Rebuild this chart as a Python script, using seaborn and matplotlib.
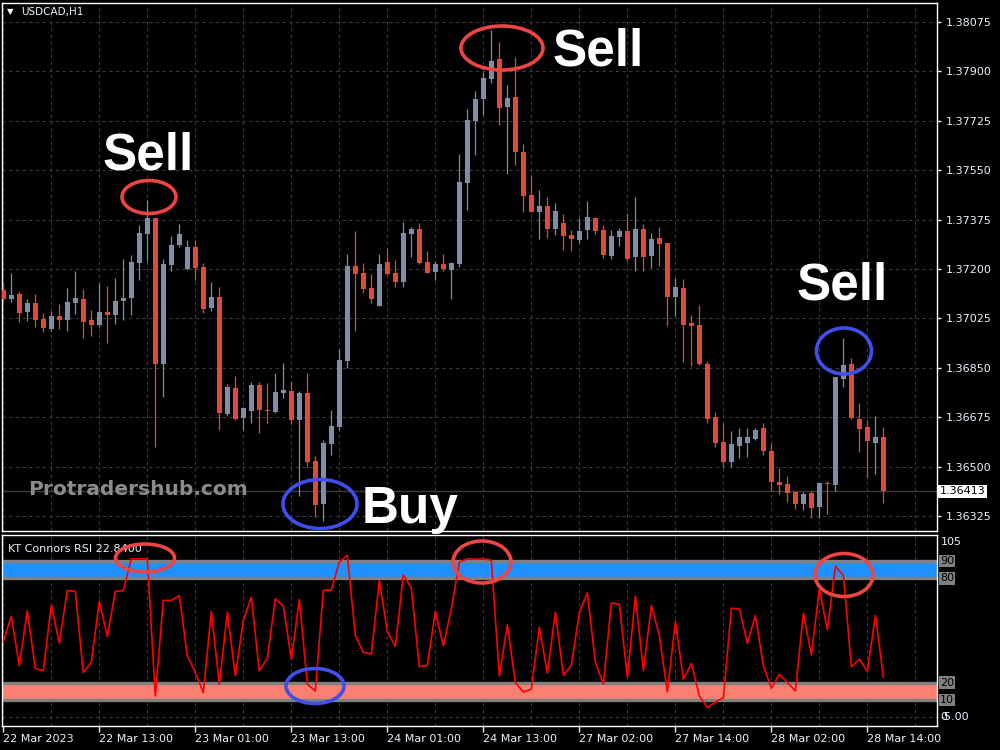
import numpy as np
import matplotlib
matplotlib.use("Agg")
import matplotlib.pyplot as plt
import matplotlib.transforms as mtransforms
from matplotlib.patches import Ellipse
import seaborn as sns

# USDCAD H1 candles, one per bar (bar 0 = 22 Mar 01:00)
open_ = [1.37125, 1.37095, 1.37111, 1.37049, 1.37079, 1.37023, 1.36989, 1.37033, 1.37020, 1.37080,
         1.37094, 1.37019, 1.37003, 1.37048, 1.37038, 1.37088, 1.37098, 1.37222, 1.37325, 1.37380,
         1.36865, 1.37215, 1.37285, 1.37200, 1.37278, 1.37207, 1.37063, 1.37101, 1.36688, 1.36779,
         1.36673, 1.36697, 1.36788, 1.36701, 1.36694, 1.36762, 1.36768, 1.36665, 1.36761, 1.36520,
         1.36367, 1.36581, 1.36641, 1.36874, 1.37210, 1.37185, 1.37132, 1.37070, 1.37223, 1.37186,
         1.37155, 1.37325, 1.37342, 1.37223, 1.37188, 1.37217, 1.37197, 1.37218, 1.37506, 1.37725,
         1.37803, 1.37874, 1.37943, 1.37775, 1.37810, 1.37615, 1.37462, 1.37402, 1.37423, 1.37342,
         1.37363, 1.37320, 1.37303, 1.37338, 1.37381, 1.37338, 1.37246, 1.37313, 1.37335, 1.37242,
         1.37342, 1.37246, 1.37310, 1.37292, 1.37101, 1.37133, 1.37009, 1.37002, 1.36864, 1.36676,
         1.36587, 1.36518, 1.36574, 1.36585, 1.36598, 1.36637, 1.36555, 1.36445, 1.36438, 1.36410,
         1.36368, 1.36406, 1.36358, 1.36443, 1.36436, 1.36811, 1.36864, 1.36669, 1.36641, 1.36585,
         1.36605]
high = [1.37150, 1.37185, 1.37122, 1.37094, 1.37111, 1.37044, 1.37051, 1.37076, 1.37132, 1.37193,
        1.37129, 1.37055, 1.37149, 1.37140, 1.37167, 1.37235, 1.37250, 1.37356, 1.37444, 1.37382,
        1.37235, 1.37317, 1.37359, 1.37303, 1.37303, 1.37221, 1.37154, 1.37135, 1.36793, 1.36821,
        1.36712, 1.36800, 1.36801, 1.36796, 1.36832, 1.36867, 1.36803, 1.36768, 1.36832, 1.36538,
        1.36596, 1.36700, 1.36917, 1.37253, 1.37335, 1.37220, 1.37182, 1.37252, 1.37273, 1.37232,
        1.37366, 1.37349, 1.37363, 1.37265, 1.37228, 1.37253, 1.37225, 1.37606, 1.37766, 1.37830,
        1.37897, 1.38047, 1.38004, 1.37852, 1.37951, 1.37644, 1.37533, 1.37479, 1.37455, 1.37434,
        1.37395, 1.37338, 1.37381, 1.37441, 1.37384, 1.37356, 1.37338, 1.37345, 1.37398, 1.37455,
        1.37359, 1.37327, 1.37349, 1.37292, 1.37168, 1.37165, 1.37037, 1.37072, 1.36874, 1.36694,
        1.36655, 1.36627, 1.36637, 1.36637, 1.36637, 1.36655, 1.36584, 1.36494, 1.36466, 1.36410,
        1.36410, 1.36414, 1.36442, 1.36450, 1.36817, 1.36955, 1.36885, 1.36726, 1.36665, 1.36679,
        1.36641]
low = [1.37088, 1.37084, 1.37013, 1.37017, 1.36995, 1.36978, 1.36981, 1.36989, 1.36981, 1.37042,
       1.36954, 1.36961, 1.36995, 1.36939, 1.37006, 1.37020, 1.37038, 1.37162, 1.37229, 1.36571,
       1.36748, 1.37192, 1.37279, 1.37196, 1.37161, 1.37043, 1.37052, 1.36630, 1.36679, 1.36665,
       1.36630, 1.36654, 1.36618, 1.36654, 1.36689, 1.36744, 1.36650, 1.36397, 1.36500, 1.36320,
       1.36308, 1.36541, 1.36630, 1.36848, 1.36981, 1.37114, 1.37080, 1.37068, 1.37179, 1.37137,
       1.37137, 1.37244, 1.37216, 1.37185, 1.37160, 1.37193, 1.37095, 1.37208, 1.37409, 1.37602,
       1.37746, 1.37860, 1.37710, 1.37535, 1.37570, 1.37401, 1.37401, 1.37306, 1.37310, 1.37321,
       1.37267, 1.37264, 1.37292, 1.37306, 1.37324, 1.37239, 1.37235, 1.37282, 1.37228, 1.37193,
       1.37193, 1.37203, 1.37210, 1.36998, 1.37033, 1.36869, 1.36857, 1.36861, 1.36655, 1.36570,
       1.36500, 1.36500, 1.36531, 1.36534, 1.36593, 1.36542, 1.36414, 1.36404, 1.36374, 1.36351,
       1.36347, 1.36318, 1.36318, 1.36332, 1.36414, 1.36783, 1.36668, 1.36552, 1.36460, 1.36474,
       1.36370]
close = [1.37095, 1.37108, 1.37045, 1.37079, 1.37020, 1.36992, 1.37033, 1.37020, 1.37083, 1.37097,
         1.37013, 1.37003, 1.37048, 1.37038, 1.37086, 1.37098, 1.37225, 1.37328, 1.37380, 1.36865,
         1.37217, 1.37285, 1.37324, 1.37278, 1.37204, 1.37059, 1.37101, 1.36689, 1.36782, 1.36669,
         1.36707, 1.36788, 1.36700, 1.36697, 1.36764, 1.36771, 1.36665, 1.36762, 1.36518, 1.36364,
         1.36583, 1.36644, 1.36878, 1.37210, 1.37183, 1.37128, 1.37095, 1.37216, 1.37183, 1.37155,
         1.37326, 1.37342, 1.37221, 1.37187, 1.37217, 1.37201, 1.37221, 1.37508, 1.37728, 1.37802,
         1.37877, 1.37937, 1.37771, 1.37805, 1.37613, 1.37460, 1.37403, 1.37423, 1.37342, 1.37405,
         1.37317, 1.37306, 1.37335, 1.37384, 1.37335, 1.37250, 1.37317, 1.37335, 1.37235, 1.37342,
         1.37242, 1.37306, 1.37288, 1.37101, 1.37136, 1.37002, 1.36998, 1.36864, 1.36669, 1.36584,
         1.36518, 1.36580, 1.36605, 1.36605, 1.36630, 1.36556, 1.36446, 1.36436, 1.36407, 1.36368,
         1.36404, 1.36354, 1.36442, 1.36439, 1.36817, 1.36860, 1.36671, 1.36635, 1.36589, 1.36605,
         1.36413]

# KT Connors RSI, one value per bar
rsi = [43.5, 58.2, 29.7, 61.5, 28.1, 26.8, 64.7, 42.8, 73.0, 72.6,
       25.8, 31.6, 66.7, 46.6, 72.5, 73.0, 91.3, 91.3, 91.3, 12.3,
       67.3, 67.3, 70.1, 35.4, 25.8, 14.2, 60.9, 19.1, 60.5, 23.9,
       55.7, 69.2, 26.8, 33.9, 68.2, 64.0, 33.5, 67.8, 19.1, 15.2,
       73.0, 73.4, 89.4, 93.3, 47.0, 37.4, 36.4, 78.8, 49.3, 40.8,
       82.1, 74.4, 29.1, 30.0, 60.9, 41.2, 62.4, 89.4, 91.3, 91.0,
       91.3, 90.4, 23.9, 53.2, 20.0, 14.6, 16.2, 51.8, 25.4, 60.5,
       24.3, 30.0, 60.5, 71.7, 31.6, 19.1, 65.9, 65.1, 22.9, 69.8,
       26.8, 64.4, 47.0, 14.6, 55.3, 21.9, 31.0, 12.3, 5.6, 8.8,
       11.3, 62.8, 62.4, 42.6, 58.6, 29.7, 16.7, 24.8, 20.0, 15.2,
       59.9, 36.0, 74.0, 50.3, 87.1, 81.7, 29.1, 33.5, 26.4, 58.6,
       22.84]

price_ticks = [1.38075, 1.37900, 1.37725, 1.37550, 1.37375, 1.37200,
               1.37025, 1.36850, 1.36675, 1.36500, 1.36325]
date_bars = [0, 12, 24, 36, 48, 60, 72, 84, 96, 108]
date_labels = ["22 Mar 2023", "22 Mar 13:00", "23 Mar 01:00", "23 Mar 13:00", "24 Mar 01:00",
               "24 Mar 13:00", "27 Mar 02:00", "27 Mar 14:00", "28 Mar 02:00", "28 Mar 14:00"]
rsi_levels = [90, 80, 20, 10]

BULL = "#7D8DA8"
BEAR = "#DD4A3A"
TXT = "#EAF2FF"
GRID = "#3A3A3A"

sns.set_theme(style="dark", rc={"axes.facecolor": "black", "figure.facecolor": "black"})
plt.rcParams["font.family"] = ["DejaVu Sans"]

o = np.array(open_)
h = np.array(high)
l = np.array(low)
c = np.array(close)
bars = np.arange(len(c))
cols = np.where(c >= o, BULL, BEAR)

fig = plt.figure(figsize=(10, 7.5), dpi=100)
ax = fig.add_axes([0.002, 0.292, 0.935, 0.704])
ax2 = fig.add_axes([0.002, 0.032, 0.935, 0.2547])

# price panel
ax.vlines(bars, l, h, colors=cols, linewidth=0.9, zorder=3)
ax.bar(bars, np.maximum(np.abs(c - o), 0.00003), bottom=np.minimum(o, c), width=0.62,
       color=cols, linewidth=0, zorder=4)
ax.axhline(c[-1], color="#3C3C3C", linewidth=1, zorder=2)
ax.set_xlim(-0.16, 116.7)
ax.set_ylim(1.36272, 1.38142)
ax.yaxis.tick_right()
ax.set_yticks(price_ticks)
ax.set_yticklabels([f"{p:.5f}" for p in price_ticks])
ax.set_xticks(np.arange(0, 117, 6))
ax.tick_params(axis="x", length=0, labelbottom=False)
ax.tick_params(axis="y", colors=TXT, labelsize=8, length=3, width=1, pad=3, direction="out")
ax.grid(True, color=GRID, linestyle=(0, (3, 3)), linewidth=0.8)
ax.set_axisbelow(True)
blend = mtransforms.blended_transform_factory(ax.transAxes, ax.transData)
ax.text(1.003, c[-1], f"{c[-1]:.5f}", transform=blend, ha="left", va="center", fontsize=8,
        color="black", bbox=dict(facecolor="white", edgecolor="none", pad=1.2), zorder=10)

# RSI panel
ax2.axhspan(80, 90, color="#1E90FF", linewidth=0, zorder=1)
ax2.axhspan(10, 20, color="#FA8072", linewidth=0, zorder=1)
for lv in rsi_levels:
    ax2.axhline(lv, color="#808080", linewidth=2.4, zorder=2)
sns.lineplot(x=bars, y=rsi, ax=ax2, color="#FF0000", linewidth=1.2, zorder=5)
ax2.set_xlim(-0.16, 116.7)
ax2.set_ylim(-5, 105)
ax2.set_xticks(date_bars)
ax2.set_xticklabels(date_labels)
for lab in ax2.get_xticklabels():
    lab.set_horizontalalignment("left")
ax2.set_xticks(np.arange(6, 117, 12), minor=True)
ax2.tick_params(axis="x", which="major", colors=TXT, labelsize=8, length=4, width=1, pad=2,
                direction="out", bottom=True)
ax2.tick_params(axis="x", which="minor", length=0)
ax2.set_yticks([0])
ax2.tick_params(axis="y", left=False, right=False, labelleft=False, labelright=False)
ax2.grid(True, which="both", color=GRID, linestyle=(0, (3, 3)), linewidth=0.8)
ax2.set_xlabel("")
ax2.set_ylabel("")
blend2 = mtransforms.blended_transform_factory(ax2.transAxes, ax2.transData)
for lv in rsi_levels:
    ax2.text(1.003, lv, str(lv), transform=blend2, ha="left", va="center", fontsize=8,
             color="black", bbox=dict(facecolor="#808080", edgecolor="none", pad=0.8))
ax2.text(1.004, 104, "105", transform=blend2, ha="left", va="top", fontsize=8, color=TXT)
ax2.text(1.004, 0, "0", transform=blend2, ha="left", va="center", fontsize=8, color=TXT)
ax2.text(1.004, 0, "-5.00", transform=blend2, ha="left", va="center", fontsize=8, color=TXT)
ax2.text(0.006, 0.955, f"KT Connors RSI {rsi[-1]:.4f}", transform=ax2.transAxes, ha="left",
         va="top", fontsize=8, color=TXT)

for a in (ax, ax2):
    for sp in a.spines.values():
        sp.set_color("white")
        sp.set_linewidth(1)
        sp.set_visible(True)

# header
fig.text(0.007, 1 - 12 / 750, "\u25bc", fontsize=6, color="white", va="center")
fig.text(0.021, 1 - 12 / 750, "USDCAD,H1", fontsize=7.5, color=TXT, va="center")

# watermark
fig.text(28 / 1000, 1 - 495 / 750, "Protradershub.com", fontsize=14.5, fontweight="bold",
         color="#8C8C8C", va="baseline", ha="left")

# signal annotations
signals = [("Sell", 148, 169), ("Sell", 598, 66), ("Sell", 842, 300), ("Buy", 410, 523)]
for word, px, py in signals:
    fig.text(px / 1000, 1 - py / 750, word, fontsize=37, fontweight="bold", color="white",
             family=["Liberation Sans", "DejaVu Sans"], ha="center", va="baseline")

rings = [(149, 197, 54, 33, "#EE4444"), (502, 48, 82, 44, "#EE4444"),
         (844, 351, 55, 46, "#3F4FEE"), (320, 504, 74, 49, "#3F4FEE"),
         (145, 558, 59, 28, "#EE4444"), (482, 562, 58, 42, "#EE4444"),
         (315, 686, 58, 35, "#3F4FEE"), (844, 575, 58, 43, "#EE4444")]
for px, py, w, hh, col in rings:
    fig.add_artist(Ellipse((px / 1000, 1 - py / 750), w / 1000, hh / 750,
                           transform=fig.transFigure, fill=False, edgecolor=col, linewidth=2.6))

fig.savefig("out.png", dpi=100, facecolor="black")
